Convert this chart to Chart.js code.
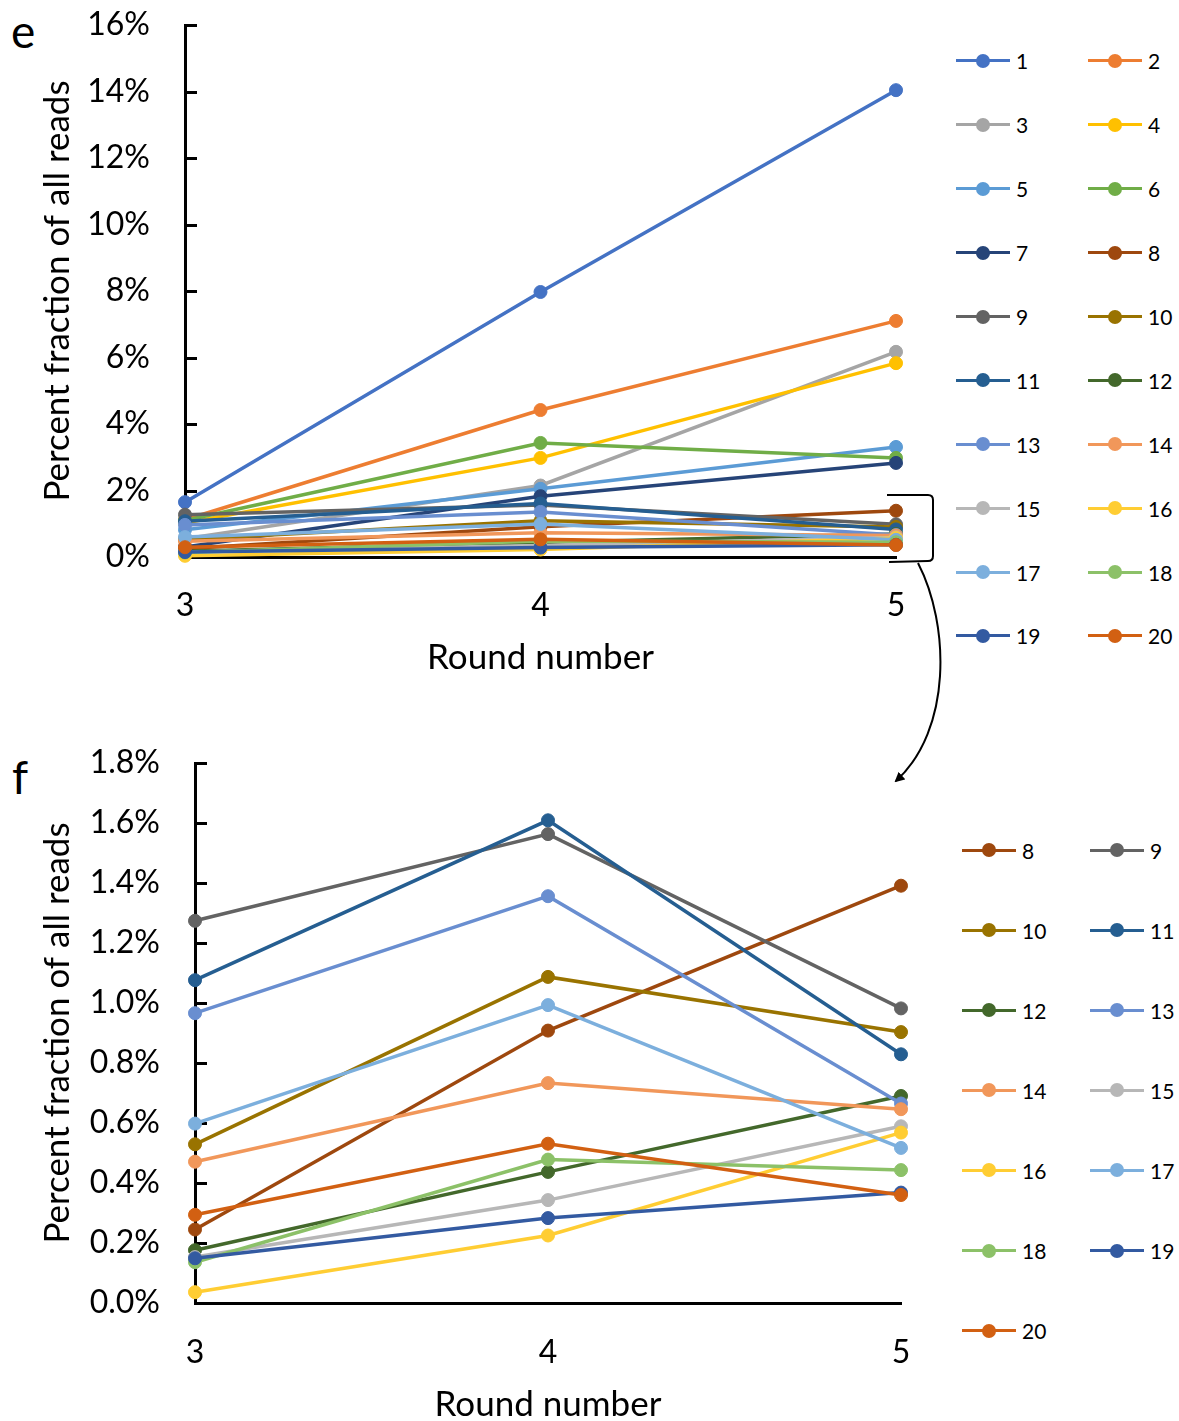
<!DOCTYPE html>
<html>
<head>
<meta charset="utf-8">
<script src="https://cdn.jsdelivr.net/npm/chart.js@4.4.1/dist/chart.umd.min.js"></script>
<style>
  html, body { margin: 0; padding: 0; background: #fff; }
  body { width: 1179px; height: 1421px; position: relative; overflow: hidden; font-family: Lato, sans-serif; }
  .box { position: absolute; }
  .panel-letter { position: absolute; font-size: 46px; color: #000; line-height: 1; }
  .legend { position: absolute; display: grid; color: #000; font-size: 21px; }
  .legend .item { display: flex; align-items: center; }
  .legend .swatch { position: relative; height: 14px; }
  .legend .swatch .ln { position: absolute; left: 0; right: 0; top: 5.5px; height: 3px; }
  .legend .swatch .dot { position: absolute; top: 0; width: 14px; height: 14px; border-radius: 50%; margin-left: -7px; left: 50%; }
  svg { position: absolute; left: 0; top: 0; pointer-events: none; }
</style>
</head>
<body>
<div class="panel-letter" style="left:11px; top:8px;">e</div>
<div class="panel-letter" style="left:12px; top:754px;">f</div>

<div class="box" style="left:0; top:0; width:940px; height:700px;"><canvas id="chartE"></canvas></div>
<div class="box" style="left:0; top:700px; width:940px; height:721px;"><canvas id="chartF"></canvas></div>

<div id="legendE" class="legend"></div>
<div id="legendF" class="legend"></div>

<svg width="1179" height="1421">
  <defs>
    <marker id="head" markerWidth="10" markerHeight="10" refX="8" refY="5" orient="auto" markerUnits="userSpaceOnUse">
      <path d="M0,0 L10,5 L0,10 z" fill="#000"/>
    </marker>
  </defs>
  <path d="M887 495 L928 495 Q933 495 933 500 L933 556 Q933 561 928 561 L889 562" fill="none" stroke="#000" stroke-width="2"/>
  <path d="M918 563 C950 625, 952 730, 896 781" fill="none" stroke="#000" stroke-width="2" marker-end="url(#head)"/>
</svg>

<script>
// Runden og serienavne
const rounds = ['3', '4', '5'];
const seriesNames = ['1', '2', '3', '4', '5', '6', '7', '8', '9', '10',
                     '11', '12', '13', '14', '15', '16', '17', '18', '19', '20'];

// Procent af alle reads (serie 1..20)
const round3Pct = [1.65, 1.12, 0.55, 1.02, 0.82, 1.10, 0.30, 0.245, 1.274, 0.529,
                   1.076, 0.176, 0.966, 0.471, 0.153, 0.036, 0.598, 0.136, 0.149, 0.294];
const round4Pct = [7.97, 4.42, 2.15, 2.98, 2.05, 3.43, 1.83, 0.908, 1.563, 1.087,
                   1.609, 0.437, 1.356, 0.733, 0.343, 0.225, 0.993, 0.478, 0.283, 0.531];
const round5Pct = [14.04, 7.10, 6.17, 5.83, 3.31, 2.98, 2.83, 1.391, 0.982, 0.903,
                   0.829, 0.690, 0.665, 0.646, 0.589, 0.568, 0.517, 0.443, 0.368, 0.360];

// Panel f viser kun serie 8..20
const zoomSeries = [7, 8, 9, 10, 11, 12, 13, 14, 15, 16, 17, 18, 19];

const seriesColors = ['#4472C4', '#ED7D31', '#A5A5A5', '#FFC000', '#5B9BD5', '#70AD47', '#264478',
                      '#9E480E', '#636363', '#997300', '#255E91', '#43682B', '#698ED0', '#F1975A',
                      '#B7B7B7', '#FFCD33', '#7CAFDD', '#8CC168', '#335AA1', '#D26012'];

const FONT = 'Lato';

function makeDatasets(indices) {
    return indices.map(i => ({
        label: seriesNames[i],
        data: [round3Pct[i], round4Pct[i], round5Pct[i]],
        borderColor: seriesColors[i],
        backgroundColor: seriesColors[i],
        pointBackgroundColor: seriesColors[i],
        pointBorderColor: seriesColors[i],
        borderWidth: 3.5,
        pointRadius: 6.5,
        pointBorderWidth: 1,
        tension: 0,
        clip: false,
        order: 100 - i // senere serier ligger øverst, som i Excel
    }));
}

// Små tick-streger inde i plotområdet
const innerTicks = {
    id: 'innerTicks',
    beforeDatasetsDraw(chart) {
        const y = chart.scales.y;
        const ctx = chart.ctx;
        ctx.save();
        ctx.strokeStyle = '#000';
        ctx.lineWidth = 3;
        y.ticks.forEach(t => {
            const py = Math.round(y.getPixelForValue(t.value)) + 0.5;
            ctx.beginPath();
            ctx.moveTo(y.right, py);
            ctx.lineTo(y.right + 12, py);
            ctx.stroke();
        });
        ctx.restore();
    }
};

function buildChart(canvasId, indices, cfg) {
    const ctx = document.getElementById(canvasId).getContext('2d');
    return new Chart(ctx, {
        type: 'line',
        data: { labels: rounds, datasets: makeDatasets(indices) },
        options: {
            responsive: true,
            maintainAspectRatio: false,
            animation: false,
            events: [],
            layout: { padding: cfg.padding },
            plugins: { legend: { display: false }, tooltip: { enabled: false } },
            scales: {
                x: {
                    offset: false,
                    grid: { display: false, drawTicks: false },
                    border: { display: true, color: '#000', width: 3 },
                    ticks: { color: '#000', padding: cfg.xTickPad, font: { family: FONT, size: 32 } },
                    title: {
                        display: true, text: 'Round number', color: '#000',
                        font: { family: FONT, size: 35, lineHeight: 1.2 },
                        padding: { top: 0, bottom: cfg.xTitlePad }
                    },
                    afterFit: s => {
                        s.height = cfg.xHeight;
                        s.paddingLeft = 0;
                        s.paddingRight = 0;
                    }
                },
                y: {
                    min: 0, max: cfg.yMax,
                    grid: { display: false, drawTicks: false },
                    border: { display: true, color: '#000', width: 3 },
                    ticks: {
                        stepSize: cfg.step, color: '#000', padding: 35,
                        font: { family: FONT, size: 32 },
                        callback: cfg.fmt
                    },
                    title: {
                        display: true, text: 'Percent fraction of all reads', color: '#000',
                        font: { family: FONT, size: 35, lineHeight: 1.2 },
                        padding: { top: 37, bottom: 0 }
                    },
                    afterFit: s => {
                        s.width = cfg.yWidth;
                        s.paddingTop = 0;
                        s.paddingBottom = 0;
                    }
                }
            }
        },
        plugins: [innerTicks]
    });
}

function buildLegend(elId, chart, pos) {
    const el = document.getElementById(elId);
    el.style.left = pos.left + 'px';
    el.style.top = pos.top + 'px';
    el.style.gridTemplateColumns = `${pos.colW}px ${pos.colW}px`;
    el.style.gridAutoRows = pos.rowH + 'px';
    chart.data.datasets.forEach(ds => {
        const item = document.createElement('div');
        item.className = 'item';
        item.innerHTML = `<span class="swatch" style="width:${pos.lineW}px">` +
            `<span class="ln" style="background:${ds.borderColor}"></span>` +
            `<span class="dot" style="background:${ds.borderColor}"></span></span>` +
            `<span style="margin-left:6px">${ds.label}</span>`;
        el.appendChild(item);
    });
}

document.fonts.load('32px Lato').then(() => {
    const chartE = buildChart('chartE', seriesNames.map((_, i) => i), {
        padding: { left: 0, top: 25, right: 44, bottom: 0 },
        yMax: 16, step: 2, fmt: v => v + '%',
        yWidth: 185, xHeight: 143, xTickPad: 29, xTitlePad: 21
    });
    const chartF = buildChart('chartF', zoomSeries, {
        padding: { left: 0, top: 63, right: 39, bottom: 0 },
        yMax: 1.8, step: 0.2, fmt: v => v.toFixed(1) + '%',
        yWidth: 195, xHeight: 118, xTickPad: 30, xTitlePad: -5
    });
    buildLegend('legendE', chartE, { left: 956, top: 29, colW: 132, rowH: 63.9, lineW: 54 });
    buildLegend('legendF', chartF, { left: 962, top: 810, colW: 128, rowH: 80.1, lineW: 54 });
});
</script>
</body>
</html>
